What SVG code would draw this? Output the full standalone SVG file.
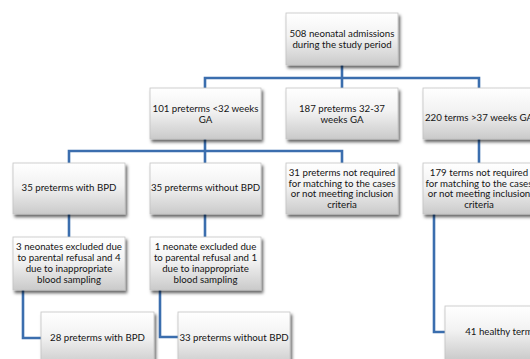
<svg xmlns="http://www.w3.org/2000/svg" width="530" height="359" viewBox="0 0 530 359">
<defs>
<linearGradient id="g" x1="0" y1="0" x2="0" y2="1">
<stop offset="0" stop-color="#ffffff"/>
<stop offset="0.45" stop-color="#f2f2f2"/>
<stop offset="1" stop-color="#cacaca"/>
</linearGradient>
<filter id="sh" x="-10%" y="-10%" width="130%" height="140%">
<feDropShadow dx="1.8" dy="2.8" stdDeviation="1.6" flood-color="#000" flood-opacity="0.6"/>
</filter>
</defs>
<style>
.box{fill:url(#g);stroke:#c4c4c4;stroke-width:0.8;filter:url(#sh)}
.t{font-family:Lato,"Liberation Sans",sans-serif;font-size:9.7px;fill:#141414;text-anchor:middle}
.c{fill:none;stroke:#3b6eae;stroke-width:2.6;stroke-linejoin:miter}
</style>
<rect width="530" height="359" fill="#ffffff"/>
<g id="connectors">
<path class="c" d="M342,65 V78 M205,89 V78 H479 V89 M342,78 V89"/>
<path class="c" d="M205,139 V151 M69,164 V151 H342 V164 M205,151 V164"/>
<path class="c" d="M479,139 V164"/>
<path class="c" d="M69,214 V238"/>
<path class="c" d="M205,214 V238"/>
<path class="c" d="M23,290 V338 H42"/>
<path class="c" d="M160,290 V337 H179"/>
<path class="c" d="M434,214 V332 H446"/>
</g>
<g id="n-admissions">
<rect class="box" x="286" y="13" width="112" height="52"/>
<text class="t" x="342" y="37">508 neonatal admissions</text>
<text class="t" x="342" y="48">during the study period</text>
</g>
<g id="n-preterm32">
<rect class="box" x="150" y="88" width="111" height="51"/>
<text class="t" x="205.5" y="112">101 preterms &lt;32 weeks</text>
<text class="t" x="205.5" y="123">GA</text>
</g>
<g id="n-preterm3237">
<rect class="box" x="286" y="88" width="112" height="51"/>
<text class="t" x="342" y="112">187 preterms 32-37</text>
<text class="t" x="342" y="123">weeks GA</text>
</g>
<g id="n-terms">
<rect class="box" x="423" y="88" width="112" height="51"/>
<text class="t" x="479" y="121">220 terms &gt;37 weeks GA</text>
</g>
<g id="n-bpd35">
<rect class="box" x="13" y="163" width="112" height="51"/>
<text class="t" x="69" y="191">35 preterms with BPD</text>
</g>
<g id="n-nobpd35">
<rect class="box" x="150" y="163" width="111" height="51"/>
<text class="t" x="205.5" y="191">35 preterms without BPD</text>
</g>
<g id="n-preterm-excluded">
<rect class="box" x="286" y="163" width="112" height="51"/>
<text class="t" x="342" y="176">31 preterms not required</text>
<text class="t" x="342" y="186.5">for matching to the cases</text>
<text class="t" x="342" y="197">or not meeting inclusion</text>
<text class="t" x="342" y="207.5">criteria</text>
</g>
<g id="n-terms-excluded">
<rect class="box" x="423" y="163" width="112" height="51"/>
<text class="t" x="479" y="176">179 terms not required</text>
<text class="t" x="479" y="186.5">for matching to the cases</text>
<text class="t" x="479" y="197">or not meeting inclusion</text>
<text class="t" x="479" y="207.5">criteria</text>
</g>
<g id="n-excl-bpd">
<rect class="box" x="13" y="237" width="112" height="53"/>
<text class="t" x="69" y="250">3 neonates excluded due</text>
<text class="t" x="69" y="261">to parental refusal and 4</text>
<text class="t" x="69" y="272">due to inappropriate</text>
<text class="t" x="69" y="283">blood sampling</text>
</g>
<g id="n-excl-nobpd">
<rect class="box" x="150" y="237" width="111" height="53"/>
<text class="t" x="205.5" y="250">1 neonate excluded due</text>
<text class="t" x="205.5" y="261">to parental refusal and 1</text>
<text class="t" x="205.5" y="272">due to inappropriate</text>
<text class="t" x="205.5" y="283">blood sampling</text>
</g>
<g id="n-bpd28">
<rect class="box" x="41" y="312" width="113" height="54"/>
<text class="t" x="97.5" y="341">28 preterms with BPD</text>
</g>
<g id="n-nobpd33">
<rect class="box" x="178" y="312" width="112" height="54"/>
<text class="t" x="234" y="341">33 preterms without BPD</text>
</g>
<g id="n-healthy">
<rect class="box" x="445" y="306" width="112" height="54"/>
<text class="t" x="501" y="335">41 healthy terms</text>
</g>
</svg>
